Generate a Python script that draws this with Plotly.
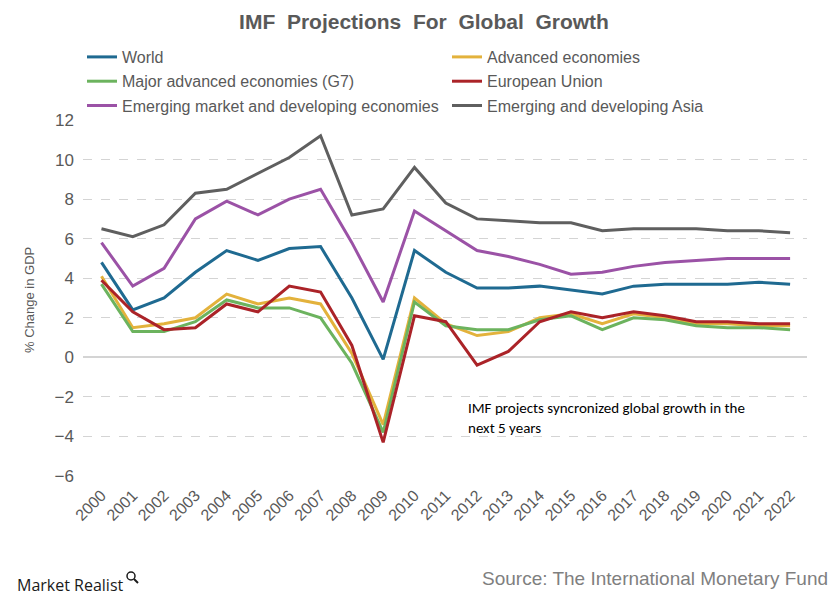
import plotly.graph_objects as go

years = [str(y) for y in range(2000, 2023)]

world = [4.8, 2.4, 3.0, 4.3, 5.4, 4.9, 5.5, 5.6, 3.0, -0.1, 5.4, 4.3, 3.5, 3.5, 3.6, 3.4, 3.2, 3.6, 3.7, 3.7, 3.7, 3.8, 3.7]
advanced = [4.1, 1.5, 1.7, 2.0, 3.2, 2.7, 3.0, 2.7, 0.2, -3.4, 3.0, 1.7, 1.1, 1.3, 2.0, 2.2, 1.7, 2.2, 2.0, 1.7, 1.7, 1.6, 1.6]
g7 = [3.7, 1.3, 1.3, 1.8, 2.9, 2.5, 2.5, 2.0, -0.3, -3.8, 2.8, 1.6, 1.4, 1.4, 1.9, 2.1, 1.4, 2.0, 1.9, 1.6, 1.5, 1.5, 1.4]
eu = [3.9, 2.3, 1.4, 1.5, 2.7, 2.3, 3.6, 3.3, 0.6, -4.3, 2.1, 1.8, -0.4, 0.3, 1.8, 2.3, 2.0, 2.3, 2.1, 1.8, 1.8, 1.7, 1.7]
emde = [5.8, 3.6, 4.5, 7.0, 7.9, 7.2, 8.0, 8.5, 5.8, 2.8, 7.4, 6.4, 5.4, 5.1, 4.7, 4.2, 4.3, 4.6, 4.8, 4.9, 5.0, 5.0, 5.0]
asia = [6.5, 6.1, 6.7, 8.3, 8.5, 9.3, 10.1, 11.2, 7.2, 7.5, 9.6, 7.8, 7.0, 6.9, 6.8, 6.8, 6.4, 6.5, 6.5, 6.5, 6.4, 6.4, 6.3]

y_ticks = [-6, -4, -2, 0, 2, 4, 6, 8, 10, 12]

series = [
    ("World", world, "#1f6a91", "legend"),
    ("Advanced economies", advanced, "#e3b23c", "legend2"),
    ("Major advanced economies (G7)", g7, "#6cb35e", "legend"),
    ("European Union", eu, "#ab2328", "legend2"),
    ("Emerging market and developing economies", emde, "#9b52a6", "legend"),
    ("Emerging and developing Asia", asia, "#5f5f5f", "legend2"),
]

REG = "Liberation Sans, Arial, sans-serif"

# The page body adds an 8px offset; the figure is sized to fit the window.
W, H = 832, 592
L, R, T, B = 75, 33, 112, 124
PW, PH = W - L - R, H - T - B


def px(xs):
    return (xs - 8 - L) / PW


def py(ys):
    return (H - B - (ys - 8)) / PH


fig = go.Figure()
for i, (name, vals, color, lg) in enumerate(series):
    fig.add_trace(go.Scatter(
        x=years, y=vals, name=name, mode="lines",
        line=dict(color=color, width=3),
        legend=lg, legendgroup="g%d" % i,
    ))

legend_common = dict(orientation="v", yanchor="top", xanchor="left",
                     font=dict(family=REG, size=16, color="#595959"),
                     bgcolor="rgba(0,0,0,0)", tracegroupgap=0.5)

fig.update_layout(
    width=W, height=H,
    margin=dict(l=L, r=R, t=T, b=B, autoexpand=False),
    paper_bgcolor="white", plot_bgcolor="white",
    title=dict(text="<b>IMF  Projections  For  Global  Growth</b>",
               x=0.5, xanchor="center", y=1 - 14 / H, yanchor="middle",
               yref="container",
               font=dict(family=REG, size=21, color="#595959")),
    legend=dict(x=px(82), y=py(40), **legend_common),
    legend2=dict(x=px(447), y=py(40), **legend_common),
    xaxis=dict(type="category", range=[-0.59, 22.54], showgrid=False,
               showline=False, zeroline=False, tickangle=-45, ticks="",
               ticklabelstandoff=6,
               tickfont=dict(family=REG, size=16, color="#595959")),
    yaxis=dict(range=[-6, 12], tickvals=y_ticks, showgrid=True,
               gridcolor="#d4d4d4", griddash="dash", gridwidth=1,
               zeroline=True, zerolinecolor="#d4d4d4", zerolinewidth=1.5,
               showline=False, ticks="", ticklabelstandoff=8,
               tickfont=dict(family=REG, size=17, color="#595959")),
    annotations=[
        dict(text="% Change in GDP", textangle=-90,
             xref="paper", yref="paper", x=px(29), y=py(300),
             xanchor="center", yanchor="middle", showarrow=False,
             font=dict(family=REG, size=13, color="#595959")),
        dict(text="IMF projects syncronized global growth in the<br>next 5 years",
             xref="paper", yref="paper", x=px(466), y=py(418),
             xanchor="left", yanchor="middle", align="left", showarrow=False,
             font=dict(family="Carlito, Calibri, Open Sans, sans-serif", size=15, color="#000000")),
        dict(text="Source: The International Monetary Fund",
             xref="paper", yref="paper", x=px(830), y=py(578),
             xanchor="right", yanchor="middle", showarrow=False,
             font=dict(family=REG, size=19, color="#7f7f7f")),
        dict(text="Market Realist",
             xref="paper", yref="paper", x=px(15), y=py(585),
             xanchor="left", yanchor="middle", showarrow=False,
             font=dict(family="Open Sans, Liberation Sans, sans-serif", size=16, color="#1a1a1a")),
    ],
    shapes=[
        dict(type="circle", xref="paper", yref="paper",
             x0=px(127), x1=px(135), y0=py(580), y1=py(572),
             line=dict(color="#1a1a1a", width=1.5)),
        dict(type="line", xref="paper", yref="paper",
             x0=px(134), x1=px(138), y0=py(579), y1=py(583),
             line=dict(color="#1a1a1a", width=2)),
    ],
)

fig.write_html("out.html")
